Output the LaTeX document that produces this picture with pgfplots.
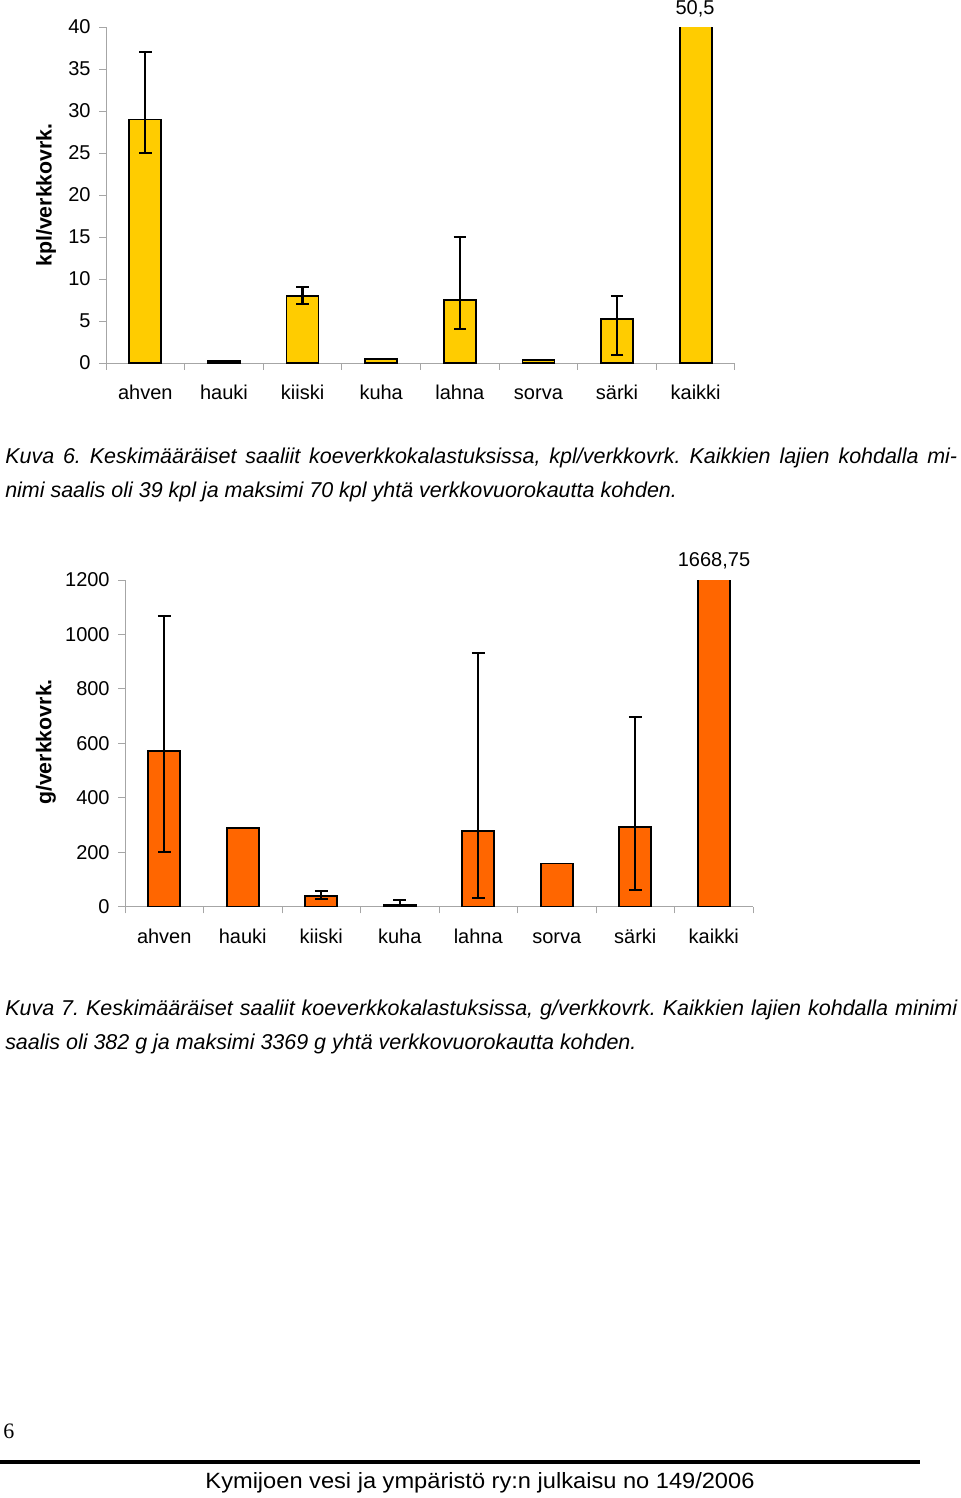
\documentclass[border=0pt]{standalone}
\usepackage{fontspec}
\setmainfont{Liberation Sans}
\newfontfamily\timesfont{Liberation Serif}
\usepackage{graphicx}
\usepackage{pgfplots}
\pgfplotsset{compat=1.18}

\definecolor{barYellow}{HTML}{FFCC00}
\definecolor{barOrange}{HTML}{FF6600}
\definecolor{axisGray}{HTML}{A6A6A6}

\newcommand{\chartfont}{\fontsize{15}{18}\selectfont}
\newcommand{\capfont}{\itshape\fontsize{16.1}{25.5}\selectfont\frenchspacing\hyphenpenalty=10000}

\pgfplotsset{
  kalachart/.style={
    scale only axis,
    anchor=south west,
    xmin=-0.5, xmax=7.5,
    ymin=0,
    ybar,
    axis x line*=bottom,
    axis y line*=left,
    axis line style={axisGray, line width=0.75pt},
    tick style={axisGray, line width=0.75pt},
    tick align=outside,
    major tick length=5pt,
    minor tick length=5pt,
    xtick={0,...,7},
    xticklabels={ahven,hauki,kiiski,kuha,lahna,sorva,särki,kaikki},
    major x tick style={draw=none},
    minor xtick={-0.5,0.5,...,7.5},
    ticklabel style={font=\chartfont, black},
    xticklabel style={text height=11pt, text depth=3pt, yshift=-8pt},
    yticklabel style={xshift=-3pt},
    /pgf/number format/assume math mode=true,
    /pgf/number format/1000 sep={},
    scaled y ticks=false,
  },
  errbar/.style={
    error bars/.cd,
      y dir=both, y explicit,
      error bar style={black, line width=1.6pt},
      error mark options={black, line width=1.6pt, mark size=4.7pt, rotate=90},
  },
  kbar/.style={draw=black, line width=1.3pt, bar width=24pt, bar shift=0pt},
}

\begin{document}
\begin{tikzpicture}
\useasboundingbox (0,0) rectangle (720pt,-1123.5pt);

% ---- Kuva 6: kpl/verkkovrk.
\begin{axis}[kalachart,
    at={(79.5pt,-272.25pt)},
    width=471.75pt, height=252pt,
    ymax=40, ytick={0,5,...,40}]
  \addplot[kbar, fill=barYellow, errbar]
    coordinates {
      (0,29)  += (0,8)   -= (0,4)
      (2,8)   += (0,1)   -= (0,1)
      (4,7.5) += (0,7.5) -= (0,3.5)
      (6,5.2) += (0,2.8) -= (0,4.2)
    };
  \addplot[kbar, fill=barYellow]
    coordinates {(1,0.2) (3,0.5) (5,0.4) (7,50.5)};
\end{axis}
\node[font=\fontsize{16}{19}\selectfont\bfseries, rotate=90] at (34.5pt,-146.25pt) {kpl/verkkovrk.};
\node[font=\chartfont] at (521.25pt,-6.75pt) {50,5};

\node[font=\capfont, text width=714pt, align=justify,
      inner sep=0pt, anchor=base west] at (3.75pt,-347.25pt)
  {Kuva 6. Keskimääräiset saaliit koeverkkokalastuksissa, kpl/verkkovrk. Kaikkien lajien kohdalla mi-\linebreak nimi saalis oli 39 kpl ja maksimi 70 kpl yhtä verkkovuorokautta kohden.};

% ---- Kuva 7: g/verkkovrk.
\begin{axis}[kalachart,
    at={(93.75pt,-680pt)},
    width=471pt, height=245pt,
    ymax=1200, ytick={0,200,...,1200}]
  \addplot[kbar, fill=barOrange, errbar]
    coordinates {
      (0,572) += (0,496) -= (0,370)
      (2,40)  += (0,18)  -= (0,12)
      (3,7)   += (0,17)  -= (0,7)
      (4,278) += (0,653) -= (0,247)
      (6,293) += (0,404) -= (0,232)
    };
  \addplot[kbar, fill=barOrange]
    coordinates {(1,289) (5,159) (7,1668.75)};
\end{axis}
\node[font=\fontsize{16}{19}\selectfont\bfseries, rotate=90] at (34.5pt,-556.5pt) {g/verkkovrk.};
\node[font=\chartfont] at (535.5pt,-420.75pt) {1668,75};

\node[font=\capfont, text width=714pt, align=justify,
      inner sep=0pt, anchor=base west] at (3.75pt,-761.25pt)
  {Kuva 7. Keskimääräiset saaliit koeverkkokalastuksissa, g/verkkovrk. Kaikkien lajien kohdalla minimi\linebreak saalis oli 382 g ja maksimi 3369 g yhtä verkkovuorokautta kohden.};

% ---- page footer
\node[font=\timesfont\fontsize{16.5}{20}\selectfont, anchor=base west, inner sep=0pt] at (2.25pt,-1078.5pt) {6};
\draw[line width=2.6pt] (0,-1096.5pt) -- (690pt,-1096.5pt);
\node[anchor=base, inner sep=0pt] at (360pt,-1116pt)
  {\resizebox{411.75pt}{12pt}{\fontsize{16.5}{20}\selectfont Kymijoen vesi ja ympäristö ry:n julkaisu no 149/2006}};
\end{tikzpicture}
\end{document}
